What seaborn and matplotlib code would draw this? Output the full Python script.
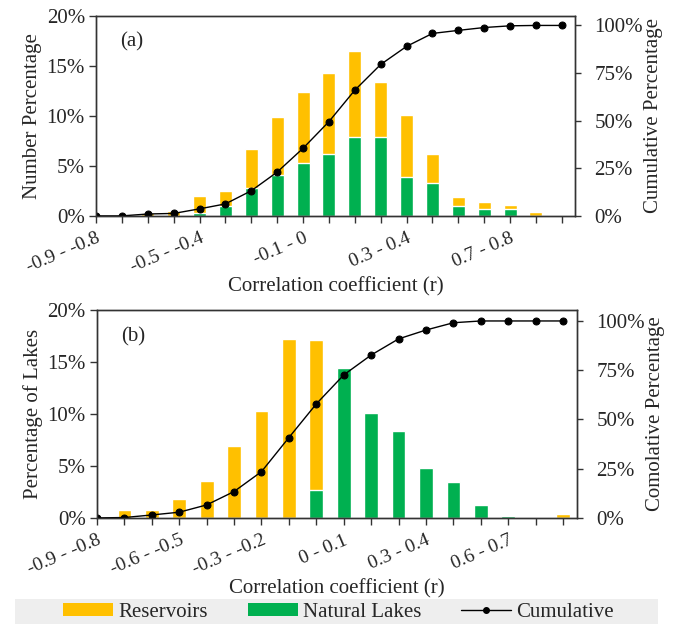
import numpy as np
import matplotlib.pyplot as plt
import seaborn as sns
from matplotlib.ticker import PercentFormatter
from matplotlib.patches import Patch, Rectangle
from matplotlib.lines import Line2D

sns.set_theme(style="white")
plt.rcParams['font.family'] = ['Liberation Serif', 'DejaVu Serif']

ORANGE = "#FFC000"
GREEN = "#00B050"
EDGE = "#333333"

# panel (a)
bins_a = ["-0.9 - -0.8", "-0.8 - -0.7", "-0.7 - -0.6", "-0.6 - -0.5", "-0.5 - -0.4",
          "-0.4 - -0.3", "-0.3 - -0.2", "-0.2 - -0.1", "-0.1 - 0", "0 - 0.1",
          "0.1 - 0.2", "0.2 - 0.3", "0.3 - 0.4", "0.4 - 0.5", "0.5 - 0.6",
          "0.6 - 0.7", "0.7 - 0.8", "0.8 - 0.9", "0.9 - 1.0"]
total_a = [0, 0, 0.3, 0.5, 2.0, 2.5, 6.7, 9.9, 12.4, 14.3, 16.5, 13.4, 10.1, 6.2, 1.9, 1.4, 1.1, 0.4, 0]
natural_a = [0, 0, 0, 0, 0.3, 1.0, 2.8, 4.1, 5.3, 6.2, 7.9, 7.9, 3.9, 3.3, 1.0, 0.7, 0.7, 0, 0]
cum_a = [0, 0, 1.0, 1.3, 3.7, 6.3, 13.2, 23.0, 35.5, 49.5, 66.0, 79.5, 89.0, 95.8, 97.4, 98.9, 99.8, 100, 100]

# panel (b)
bins_b = ["-0.9 - -0.8", "-0.8 - -0.7", "-0.7 - -0.6", "-0.6 - -0.5", "-0.5 - -0.4",
          "-0.4 - -0.3", "-0.3 - -0.2", "-0.2 - -0.1", "-0.1 - 0", "0 - 0.1",
          "0.1 - 0.2", "0.2 - 0.3", "0.3 - 0.4", "0.4 - 0.5", "0.5 - 0.6",
          "0.6 - 0.7", "0.7 - 0.8", "0.8 - 0.9"]
total_b = [0, 0.8, 0.8, 1.8, 3.6, 6.9, 10.3, 17.2, 17.1, 14.4, 10.1, 8.4, 4.8, 3.5, 1.2, 0.2, 0, 0.4]
natural_b = [0, 0, 0, 0, 0, 0, 0, 0, 2.7, 14.4, 10.1, 8.4, 4.8, 3.5, 1.2, 0.2, 0, 0]
cum_b = [0, 0.2, 1.5, 2.9, 6.6, 13.4, 23.5, 40.8, 57.9, 72.6, 82.7, 90.9, 95.4, 99.1, 100, 100, 100, 100]

fig = plt.figure(figsize=(6.81, 6.24), dpi=100)
ax_a = fig.add_axes([0.141, 0.654, 0.703, 0.3205])
ax_b = fig.add_axes([0.1424, 0.170, 0.7046, 0.333])


def draw_panel(ax, bins, total, natural, cum, step, letter, ylabel, rlabel, rtop):
    n = len(bins)
    sns.barplot(x=bins, y=total, order=bins, color=ORANGE, saturation=1,
                width=0.5, errorbar=None, ax=ax)
    sns.barplot(x=bins, y=natural, order=bins, color=GREEN, saturation=1,
                width=0.5, errorbar=None, ax=ax)
    ax.set_ylim(0, 20)
    ax.set_yticks([0, 5, 10, 15, 20])
    ax.yaxis.set_major_formatter(PercentFormatter(100, decimals=0))
    ax.set_ylabel(ylabel, fontsize=15, labelpad=3)
    ax.set_xlabel("Correlation coefficient (r)", fontsize=15, labelpad=1)

    ax2 = ax.twinx()
    sns.lineplot(x=np.arange(n), y=cum, ax=ax2, color="black", linewidth=1,
                 marker="o", markersize=5, markeredgecolor="black")
    ax2.set_ylim(0, rtop)
    ax2.set_yticks([0, 25, 50, 75, 100])
    ax2.yaxis.set_major_formatter(PercentFormatter(100, decimals=0))
    ax2.set_ylabel(rlabel, fontsize=15, labelpad=1)
    ax2.grid(False)

    ax.set_xlim(0, n - 0.5)
    ax.set_xticks(range(n))
    ax.set_xticklabels([b if i % step == 0 else "" for i, b in enumerate(bins)],
                       rotation=23, ha="right", rotation_mode="anchor")

    for a in (ax, ax2):
        for s in a.spines.values():
            s.set_color(EDGE)
            s.set_linewidth(1)
    ax.tick_params(axis="x", bottom=True, direction="out", length=5, width=1,
                   color=EDGE, labelsize=14, pad=5)
    ax.tick_params(axis="y", left=True, direction="out", length=5, width=1,
                   color=EDGE, labelsize=15, pad=3)
    ax2.tick_params(axis="y", right=True, direction="out", length=4, width=1,
                    color=EDGE, labelsize=15, pad=10)
    ax.text(0.05, 0.87, letter, transform=ax.transAxes, fontsize=15,
            ha="left", va="center")


draw_panel(ax_a, bins_a, total_a, natural_a, cum_a, 4, "(a)",
           "Number Percentage", "Cumulative Percentage", 105)
draw_panel(ax_b, bins_b, total_b, natural_b, cum_b, 3, "(b)",
           "Percentage of Lakes", "Comolative Percentage", 105.5)

# legend band
fig.patches.append(Rectangle((15 / 681, 0), 643 / 681, 25 / 624,
                             transform=fig.transFigure, facecolor="#eeeeee",
                             edgecolor="none", zorder=0))
handles = [Patch(facecolor=ORANGE, edgecolor="none"),
           Patch(facecolor=GREEN, edgecolor="none"),
           Line2D([], [], color="black", lw=1, marker="o", markersize=4)]
fig.legend(handles, ["Reservoirs", "Natural Lakes", "Cumulative"],
           loc="center", bbox_to_anchor=(0.497, 0.019), ncol=3, frameon=False,
           fontsize=15, handlelength=2.4, handleheight=0.55, handletextpad=0.25,
           columnspacing=1.9, borderpad=0)

fig.savefig("out.png", dpi=100)
